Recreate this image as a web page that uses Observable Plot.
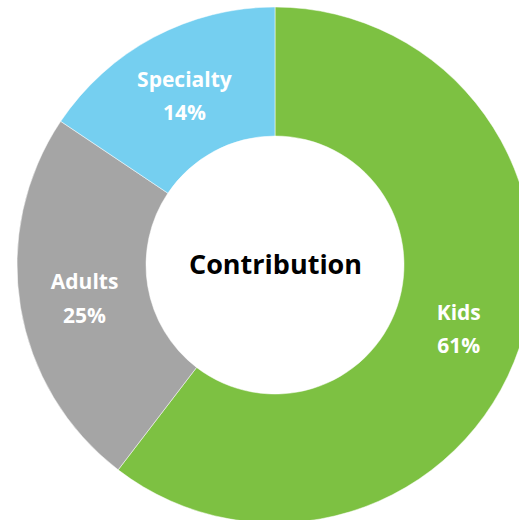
<!DOCTYPE html>
<html>
<head>
<meta charset="utf-8">
<script src="https://cdn.jsdelivr.net/npm/d3@7"></script>
<script src="https://cdn.jsdelivr.net/npm/@observablehq/plot@0.6"></script>
<style>
  html, body { margin: 0; padding: 0; background: #fff; }
  #chart svg { display: block; }
</style>
</head>
<body>
<div id="chart"></div>
<script>
// Data
const categories = ["Kids", "Adults", "Specialty"];
const shares = [60.4, 24.0, 15.6];          // slice sizes (measured arc angles)
const percentLabels = ["61%", "25%", "14%"]; // label text as printed
const colors = ["#7DC142", "#A5A5A5", "#75CFF0"];
const centerTitle = "Contribution";

const data = categories.map((c, i) => ({
  category: c, share: shares[i], label: `${c}\n${percentLabels[i]}`, color: colors[i]
}));

const outerR = 1, innerR = 0.5;
const pie = d3.pie().value(d => d.share).sort(null);
const arcs = pie(data);
const midR = (outerR + innerR) / 2;
const labelData = arcs.map(a => {
  const ang = (a.startAngle + a.endAngle) / 2;
  return { label: a.data.label, x: midR * Math.sin(ang), y: midR * Math.cos(ang) };
});

const donutMark = (index, scales, values, dimensions) => {
  const cx = scales.x(0), cy = scales.y(0);
  const R = Math.abs(scales.x(outerR) - scales.x(0));
  const r = Math.abs(scales.x(innerR) - scales.x(0));
  const arc = d3.arc().innerRadius(r).outerRadius(R);
  const g = d3.create("svg:g").attr("transform", `translate(${cx},${cy})`);
  g.selectAll("path").data(arcs).join("path")
    .attr("d", arc)
    .attr("fill", d => d.data.color)
    .attr("stroke", "#fff")
    .attr("stroke-width", 0.5);
  return g.node();
};

const chart = Plot.plot({
  width: 519,
  height: 520,
  margin: 0,
  x: { domain: [-1, 1], range: [275 - 258, 275 + 258], axis: null },
  y: { domain: [-1, 1], range: [265 + 258, 265 - 258], axis: null },
  style: { fontFamily: "'Open Sans', sans-serif", background: "#fff" },
  marks: [
    donutMark,
    Plot.text(labelData, {
      x: "x", y: "y", text: "label",
      fill: "#fff", fontSize: 21, fontWeight: "bold", lineHeight: 1.6, dy: -2
    }),
    Plot.text([centerTitle], {
      x: () => 0, y: () => 0, text: d => d,
      fill: "#000", fontSize: 27, fontWeight: "bold"
    })
  ]
});
document.getElementById("chart").appendChild(chart);
</script>
</body>
</html>
